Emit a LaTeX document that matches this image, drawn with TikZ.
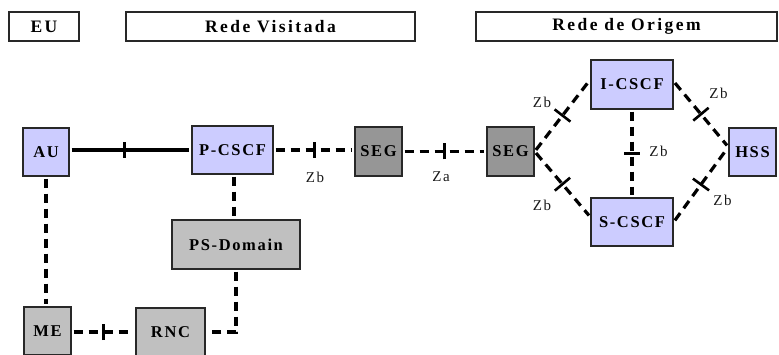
\documentclass[tikz,border=0pt]{standalone}
\usepackage{fontspec}
\setmainfont{Liberation Serif}
\newfontfamily\hdrfont[LetterSpace=14]{Liberation Serif Bold}
\newfontfamily\boxfont[LetterSpace=10]{Liberation Serif Bold}
\newfontfamily\lblfont[LetterSpace=10]{Liberation Serif}
\usetikzlibrary{calc,decorations.markings}
\definecolor{lav}{RGB}{204,204,255}
\definecolor{lgray}{RGB}{192,192,192}
\definecolor{dgray}{RGB}{150,150,150}
\definecolor{edge}{RGB}{40,40,40}
\tikzset{
  hdr/.style={draw=edge, line width=1.6pt, fill=white, inner sep=0pt, minimum height=29pt, font=\hdrfont\fontsize{17.5}{17.5}\selectfont, text=black},
  box/.style={draw=edge, line width=1.4pt, inner sep=0pt, minimum height=48pt, font=\boxfont\fontsize{16.5}{16.5}\selectfont, text=black},
  ims/.style={box, fill=lav},
  gbox/.style={box, fill=lgray},
  segbox/.style={box, fill=dgray},
  sl/.style={line width=3.2pt, shorten <=2pt, shorten >=2pt},
  dl/.style={line width=3.2pt, dash pattern=on 9pt off 6pt, shorten <=2pt, shorten >=2pt},
  tick/.style={postaction={decorate, decoration={markings, mark=at position #1 with {\draw[solid, line width=3pt] (0,-10pt) -- (0,10pt);}}}},
  dtick/.style={postaction={decorate, decoration={markings, mark=at position #1 with {\draw[solid, line width=2.6pt] (0,-12pt) -- (0,12pt);}}}},
  lbl/.style={font=\lblfont\fontsize{15}{15}\selectfont, text=black!90, inner sep=0pt}
}
\begin{document}
\begin{tikzpicture}[x=1pt,y=-1pt]
\useasboundingbox (0,0) rectangle (779,355);
% headers
\node[hdr, minimum width=70pt] (eu) at (44,26.5) {EU};
\node[hdr, minimum width=289pt] (rv) at (270.5,26.5) {Rede Visitada};
\node[hdr, minimum width=301pt] (ro) at (626.5,26.5) {Rede de Origem};
% nodes
\node[ims, minimum width=46pt] (au) at (46,152) {AU};
\node[ims, minimum width=81pt] (pcscf) at (232.5,150) {P-CSCF};
\node[segbox, minimum width=47pt, minimum height=49pt] (seg1) at (378.5,151.5) {SEG};
\node[segbox, minimum width=47pt, minimum height=49pt] (seg2) at (510.5,151.5) {SEG};
\node[ims, minimum width=82pt, minimum height=49pt] (icscf) at (632,84.5) {I-CSCF};
\node[ims, minimum width=82pt] (scscf) at (632,222) {S-CSCF};
\node[ims, minimum width=47pt] (hss) at (752.5,152) {HSS};
\node[gbox, minimum width=128pt, minimum height=49pt] (psd) at (236,244.5) {PS-Domain};
\node[gbox, minimum width=47pt] (me) at (47.5,331) {ME};
\node[gbox, minimum width=69pt] (rnc) at (170.5,332) {RNC};
% connectors
\draw[sl, tick=0.45] (pcscf.west -| au.east) -- (pcscf.west);
\draw[dl, tick=0.5] (pcscf.east) -- (pcscf.east -| seg1.west);
\draw[dl, tick=0.5] (seg1.east) -- (seg2.west);
\draw[dl, dtick=0.5] (seg2.east) -- ($(icscf.west)+(0,-5)$);
\draw[dl, dtick=0.5] (seg2.east) -- ($(scscf.west)+(0,-5)$);
\draw[dl, dtick=0.5] ($(icscf.east)+(0,-3)$) -- ($(hss.west)+(0,-5)$);
\draw[dl, dtick=0.5] (scscf.east) -- ($(hss.west)+(0,-5)$);
\draw[dl, tick=0.5] (icscf.south) -- (scscf.north);
\draw[dl] ([xshift=1.5pt]pcscf.south) -- ([xshift=1.5pt]pcscf.south |- psd.north);
\draw[dl, shorten <=2pt] (psd.south) |- (rnc.east);
\draw[dl] (au.south) -- (au.south |- me.north);
\draw[dl, tick=0.5] (me.east |- rnc.east) -- (rnc.west);
% labels
\node[lbl] (l1) at (315,177) {Zb};
\node[lbl] (l2) at (441,177) {Za};
\node[lbl] (l3) at (542,102) {Zb};
\node[lbl] (l4) at (718.5,93.5) {Zb};
\node[lbl] (l5) at (658.5,151) {Zb};
\node[lbl] (l6) at (542,205.5) {Zb};
\node[lbl] (l7) at (722.5,200.5) {Zb};
\end{tikzpicture}
\end{document}
